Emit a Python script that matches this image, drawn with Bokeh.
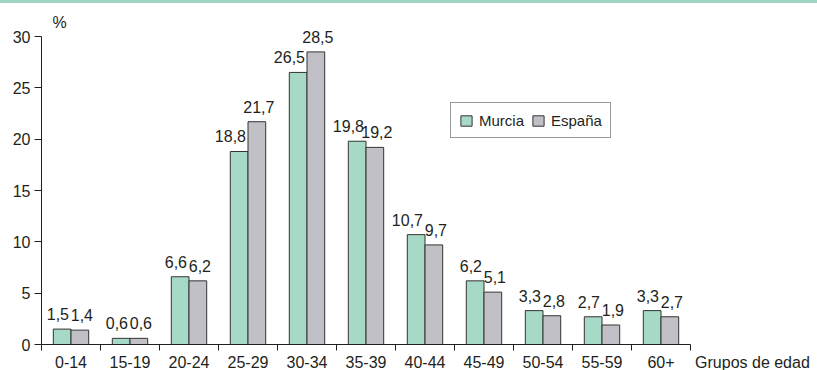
from bokeh.plotting import figure
from bokeh.models import (Range1d, FixedTicker, ColumnDataSource, Legend, LegendItem, Label,
                          Div, LinearAxis)
from bokeh.layouts import column
from bokeh.embed import file_html
from bokeh.resources import INLINE
from bokeh.core.properties import value
from bokeh.transform import dodge

categories = ["0-14", "15-19", "20-24", "25-29", "30-34", "35-39", "40-44", "45-49", "50-54", "55-59", "60+"]
murcia = [1.5, 0.6, 6.6, 18.8, 26.5, 19.8, 10.7, 6.2, 3.3, 2.7, 3.3]
espana = [1.4, 0.6, 6.2, 21.7, 28.5, 19.2, 9.7, 5.1, 2.8, 1.9, 2.7]
y_ticks = [0, 5, 10, 15, 20, 25, 30]
x_title = "Grupos de edad"
y_title = "%"

FONT = "Liberation Sans"
TXT = "#231f20"
C_MURCIA = "#a6dac6"
C_ESPANA = "#c0c0c6"
EDGE = "#333333"

idx = list(range(len(categories)))


def fmt(v):
    return f"{v:.1f}".replace(".", ",")


src = ColumnDataSource(dict(
    x=idx, murcia=murcia, espana=espana,
    ml=[fmt(v) for v in murcia], el=[fmt(v) for v in espana],
))

cat_px = 59.0
unit_px = 308.0 / 30.0
frame_w = 776
frame_h = 341
n = len(categories)

p = figure(
    frame_width=frame_w, frame_height=frame_h,
    x_range=Range1d(-0.5, -0.5 + frame_w / cat_px),
    y_range=Range1d(0, frame_h / unit_px),
    output_backend="svg", toolbar_location=None,
    min_border_left=41, min_border_right=0, min_border_top=0, min_border_bottom=10,
)
p.outline_line_color = None
p.grid.visible = False
p.background_fill_color = "white"
p.border_fill_color = "white"

r1 = p.vbar(x=dodge("x", -0.15), top="murcia", width=0.3, source=src,
            fill_color=C_MURCIA, line_color=EDGE, line_width=1)
r2 = p.vbar(x=dodge("x", 0.15), top="espana", width=0.3, source=src,
            fill_color=C_ESPANA, line_color=EDGE, line_width=1)

common = dict(text_baseline="alphabetic", y_offset=-15,
              text_font=value(FONT), text_font_size="16px", text_color=TXT, source=src)
p.text(x="x", y="murcia", text="ml", text_align="right", x_offset=-2, **common)
p.text(x=dodge("x", 0.15), y="espana", text="el", text_align="center", x_offset=2, **common)

# x axis line with boundary ticks
xa = p.xaxis[0]
xa.ticker = FixedTicker(ticks=[], minor_ticks=[i - 0.5 for i in range(n + 1)])
xa.bounds = (-0.58, n - 0.5)
xa.major_tick_line_color = None
xa.major_tick_out = 0
xa.major_tick_in = 0
xa.minor_tick_line_color = TXT
xa.minor_tick_out = 6
xa.minor_tick_in = 0
xa.major_label_standoff = 0
xa.axis_line_color = TXT

# x labels (categories + axis title) on a second axis without line
title_pos = n + 0.55
xl = LinearAxis(
    ticker=FixedTicker(ticks=idx + [title_pos]),
    major_label_overrides={**{i: c for i, c in enumerate(categories)}, title_pos: x_title},
    bounds=(-0.58, title_pos + 1.2),
    axis_line_color=None, major_tick_line_color=None, minor_tick_line_color=None,
    major_tick_out=0, major_tick_in=0, minor_tick_out=0, minor_tick_in=0,
    major_label_standoff=3,
    major_label_text_font=FONT, major_label_text_font_size="16px", major_label_text_color=TXT,
)
p.add_layout(xl, "below")

# y axis
ya = p.yaxis[0]
ya.ticker = FixedTicker(ticks=y_ticks)
ya.bounds = (0, 30)
ya.major_tick_out = 7
ya.major_tick_in = 0
ya.minor_tick_line_color = None
ya.major_tick_line_color = TXT
ya.axis_line_color = TXT
ya.major_label_standoff = 4
ya.major_label_text_font = FONT
ya.major_label_text_font_size = "16px"
ya.major_label_text_color = TXT

legend = Legend(
    items=[LegendItem(label="Murcia", renderers=[r1]), LegendItem(label="España", renderers=[r2])],
    orientation="horizontal", location=(409, 206),
    border_line_color=EDGE, border_line_width=1.5,
    padding=8, spacing=7, margin=0,
    glyph_width=14, glyph_height=13, label_standoff=6, label_height=18,
    label_text_font=FONT, label_text_font_size="15px", label_text_color=TXT,
    background_fill_alpha=1,
)
p.add_layout(legend)

p.add_layout(Label(x=-0.314, y=30.88, y_offset=5, text=y_title, text_baseline="alphabetic",
                   text_font=FONT, text_font_size="16px", text_color=TXT))

bar = Div(text="", width=817, height=3, margin=0,
          styles={"background-color": "#9fd5c2"})
layout = column(bar, p, spacing=0)

open("out.html", "w").write(file_html(layout, INLINE))
